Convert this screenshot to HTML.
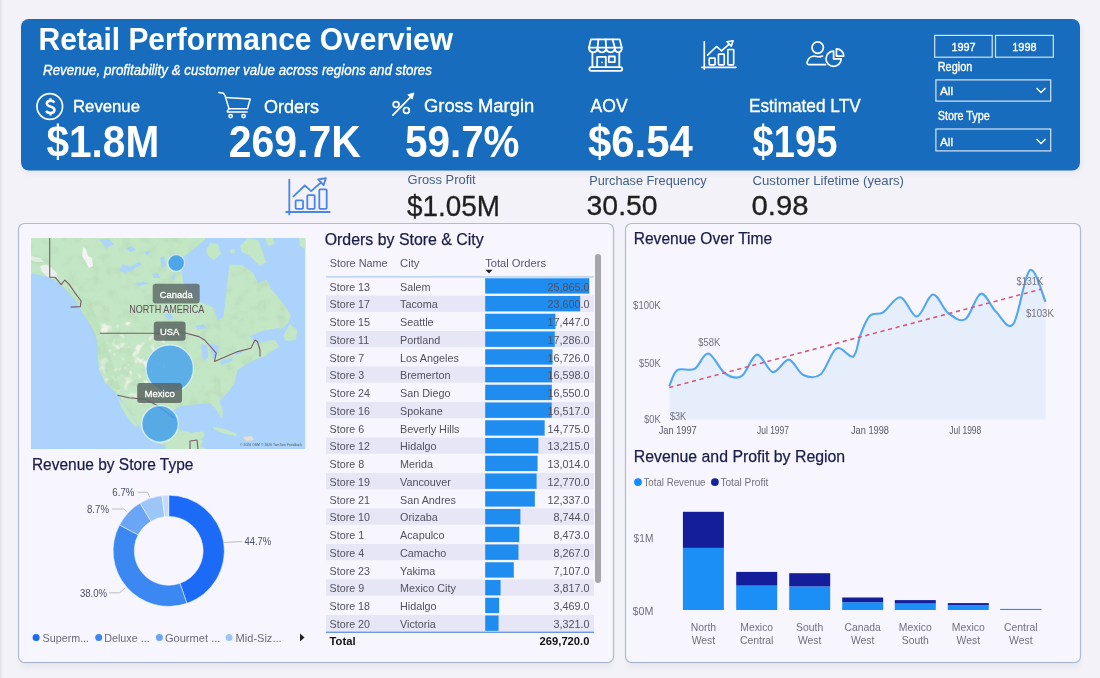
<!DOCTYPE html>
<html><head><meta charset="utf-8"><style>
html,body{margin:0;padding:0;width:1100px;height:678px;overflow:hidden;background:#f2f2f8;}
svg{display:block;font-family:"Liberation Sans", sans-serif;filter:blur(0.4px);}
</style></head><body>
<svg width="1100" height="678" viewBox="0 0 1100 678">
<defs><filter id="psh" x="-5%" y="-5%" width="110%" height="115%"><feGaussianBlur stdDeviation="3"/></filter></defs>
<rect x="0" y="0" width="1100" height="678" fill="#f2f2f8"/>
<rect x="0" y="0" width="1" height="678" fill="#e3e3e9"/><rect x="1" y="0" width="1.5" height="678" fill="#ebebf0"/>
<rect x="23" y="23" width="1058" height="150" rx="8" fill="#000" opacity="0.06" filter="url(#psh)"/>
<rect x="21" y="19" width="1059" height="151.5" rx="8" fill="#186cbe"/>
<text x="38.50" y="50.00" font-size="32.122905027932966" fill="#ffffff" font-weight="bold" font-style="normal" text-anchor="start" textLength="414.5" lengthAdjust="spacingAndGlyphs" >Retail Performance Overview</text>
<text x="43.00" y="74.60" font-size="13.966480446927374" fill="#ffffff" font-weight="normal" font-style="italic" text-anchor="start" textLength="389.0" lengthAdjust="spacingAndGlyphs" stroke="#ffffff" stroke-width="0.35">Revenue, profitability &amp; customer value across regions and stores</text>
<text x="73.00" y="112.30" font-size="17.178770949720672" fill="#ffffff" font-weight="normal" font-style="normal" text-anchor="start" textLength="67.0" lengthAdjust="spacingAndGlyphs" stroke="#ffffff" stroke-width="0.35">Revenue</text>
<text x="264.00" y="112.60" font-size="17.59776536312849" fill="#ffffff" font-weight="normal" font-style="normal" text-anchor="start" textLength="55.0" lengthAdjust="spacingAndGlyphs" stroke="#ffffff" stroke-width="0.35">Orders</text>
<text x="424.00" y="112.30" font-size="17.87709497206704" fill="#ffffff" font-weight="normal" font-style="normal" text-anchor="start" textLength="110.2" lengthAdjust="spacingAndGlyphs" stroke="#ffffff" stroke-width="0.35">Gross Margin</text>
<text x="590.60" y="111.60" font-size="17.87709497206704" fill="#ffffff" font-weight="normal" font-style="normal" text-anchor="start" textLength="37.1" lengthAdjust="spacingAndGlyphs" stroke="#ffffff" stroke-width="0.35">AOV</text>
<text x="748.90" y="111.60" font-size="18.715083798882684" fill="#ffffff" font-weight="normal" font-style="normal" text-anchor="start" textLength="111.8" lengthAdjust="spacingAndGlyphs" stroke="#ffffff" stroke-width="0.35">Estimated LTV</text>
<text x="46.40" y="156.60" font-size="44.23324022346369" fill="#ffffff" font-weight="bold" font-style="normal" text-anchor="start" textLength="112.8" lengthAdjust="spacingAndGlyphs" >$1.8M</text>
<text x="228.80" y="157.00" font-size="44.08868715083799" fill="#ffffff" font-weight="bold" font-style="normal" text-anchor="start" textLength="132.0" lengthAdjust="spacingAndGlyphs" >269.7K</text>
<text x="405.00" y="157.30" font-size="44.522346368715084" fill="#ffffff" font-weight="bold" font-style="normal" text-anchor="start" textLength="114.5" lengthAdjust="spacingAndGlyphs" >59.7%</text>
<text x="588.00" y="156.70" font-size="44.23324022346369" fill="#ffffff" font-weight="bold" font-style="normal" text-anchor="start" textLength="104.8" lengthAdjust="spacingAndGlyphs" >$6.54</text>
<text x="752.60" y="156.70" font-size="44.23324022346369" fill="#ffffff" font-weight="bold" font-style="normal" text-anchor="start" textLength="84.9" lengthAdjust="spacingAndGlyphs" >$195</text>
<text x="407.60" y="184.40" font-size="13.128491620111733" fill="#42608a" font-weight="normal" font-style="normal" text-anchor="start" textLength="68.1" lengthAdjust="spacingAndGlyphs" >Gross Profit</text>
<text x="589.30" y="185.00" font-size="13.40782122905028" fill="#42608a" font-weight="normal" font-style="normal" text-anchor="start" textLength="117.4" lengthAdjust="spacingAndGlyphs" >Purchase Frequency</text>
<text x="752.50" y="185.00" font-size="13.40782122905028" fill="#42608a" font-weight="normal" font-style="normal" text-anchor="start" textLength="151.5" lengthAdjust="spacingAndGlyphs" >Customer Lifetime (years)</text>
<text x="407.00" y="215.60" font-size="30.053072625698327" fill="#1f1f1f" font-weight="normal" font-style="normal" text-anchor="start" textLength="93.0" lengthAdjust="spacingAndGlyphs" stroke="#1f1f1f" stroke-width="0.3">$1.05M</text>
<text x="586.60" y="215.00" font-size="27.536312849162012" fill="#1f1f1f" font-weight="normal" font-style="normal" text-anchor="start" textLength="71.0" lengthAdjust="spacingAndGlyphs" stroke="#1f1f1f" stroke-width="0.3">30.50</text>
<text x="751.50" y="215.00" font-size="27.536312849162012" fill="#1f1f1f" font-weight="normal" font-style="normal" text-anchor="start" textLength="57.0" lengthAdjust="spacingAndGlyphs" stroke="#1f1f1f" stroke-width="0.3">0.98</text>
<rect x="934.7" y="35.4" width="57.5" height="21.8" fill="none" stroke="#d9e4f2" stroke-width="1.2"/>
<rect x="995.5" y="35.4" width="57.8" height="21.8" fill="none" stroke="#d9e4f2" stroke-width="1.2"/>
<text x="963.50" y="50.50" font-size="10.893854748603353" fill="#ffffff" font-weight="normal" font-style="normal" text-anchor="middle" stroke="#ffffff" stroke-width="0.35">1997</text>
<text x="1024.40" y="50.50" font-size="10.893854748603353" fill="#ffffff" font-weight="normal" font-style="normal" text-anchor="middle" stroke="#ffffff" stroke-width="0.35">1998</text>
<text x="937.70" y="71.40" font-size="12.569832402234637" fill="#ffffff" font-weight="normal" font-style="normal" text-anchor="start" textLength="34.6" lengthAdjust="spacingAndGlyphs" stroke="#ffffff" stroke-width="0.35">Region</text>
<rect x="935.9" y="79.9" width="114.8" height="21.2" fill="none" stroke="#d9e4f2" stroke-width="1.2"/>
<text x="940.00" y="95.00" font-size="11.731843575418996" fill="#ffffff" font-weight="normal" font-style="normal" text-anchor="start" stroke="#ffffff" stroke-width="0.35">All</text>
<path d="M1036.5 88 L1041 92.5 L1045.5 88" fill="none" stroke="#ffffff" stroke-width="1.3"/>
<text x="937.70" y="120.20" font-size="12.569832402234637" fill="#ffffff" font-weight="normal" font-style="normal" text-anchor="start" textLength="52.0" lengthAdjust="spacingAndGlyphs" stroke="#ffffff" stroke-width="0.35">Store Type</text>
<rect x="935.9" y="129" width="114.8" height="21.9" fill="none" stroke="#d9e4f2" stroke-width="1.2"/>
<text x="940.00" y="145.50" font-size="11.731843575418996" fill="#ffffff" font-weight="normal" font-style="normal" text-anchor="start" stroke="#ffffff" stroke-width="0.35">All</text>
<path d="M1036.5 139 L1041 143.5 L1045.5 139" fill="none" stroke="#ffffff" stroke-width="1.3"/>
<rect x="20" y="228" width="593" height="440" rx="6" fill="#000" opacity="0.045" filter="url(#psh)"/>
<rect x="627" y="228" width="453" height="440" rx="6" fill="#000" opacity="0.045" filter="url(#psh)"/>
<rect x="18.5" y="223.5" width="595" height="439" rx="6" fill="#f7f6fe" stroke="#afbccf" stroke-width="1.2"/>
<rect x="625.5" y="223.5" width="455" height="439" rx="6" fill="#f7f6fe" stroke="#afbccf" stroke-width="1.2"/>
<path d="M24 662.6 H608" stroke="#9fb0c6" stroke-width="0.8"/><path d="M631 662.6 H1075" stroke="#9fb0c6" stroke-width="0.8"/>
<circle cx="49.75" cy="106.5" r="12.8" fill="none" stroke="#fff" stroke-width="1.7"/>
<path d="M54.3 102.6 C53.6 101.3 52.3 100.8 50.5 100.8 C48.1 100.8 46.8 102 46.8 103.6 C46.8 107.6 54.5 105.6 54.5 110 C54.5 111.8 52.8 113 50.4 113 C48.3 113 46.9 112.3 46.1 111" fill="none" stroke="#fff" stroke-width="2.5" stroke-linecap="butt"/><path d="M50.5 98.2 V101 M50.5 112.8 V115.4" stroke="#fff" stroke-width="2.3"/>
<g fill="none" stroke="#fff" stroke-width="1.5" stroke-linejoin="round" stroke-linecap="round"><path d="M218.9 92.6 L223.6 93.3 L225 95.6 L229 108.8 L227.6 110.6 L227.3 112 L247 112"/><path d="M225.8 97.4 L250.2 99 L247.5 108.8 L229 108.8"/><circle cx="230.6" cy="116.1" r="1.7"/><circle cx="243.6" cy="116.1" r="1.7"/></g>
<g fill="none" stroke="#fff" stroke-width="1.7"><circle cx="396.1" cy="104.6" r="2.9"/><circle cx="406.4" cy="110.4" r="2.9"/><path d="M392.9 115.2 L410.5 97.2" stroke-linecap="round"/></g>
<path d="M413.9 92.9 L407.8 94.8 L412.2 99.2 Z" fill="#fff" stroke="#fff" stroke-width="0.8" stroke-linejoin="round"/>
<g fill="none" stroke="#fff" stroke-width="1.8" stroke-linejoin="round" stroke-linecap="round"><path d="M590.9 39.4 H619.7 L621.8 47.6 H589 Z"/><path d="M589 47.6 Q589 52.3 593.3 52.3 Q597.6 52.3 597.6 47.6 Q597.6 52.3 601.9 52.3 Q606.2 52.3 606.2 47.6 Q606.2 52.3 610.5 52.3 Q614.8 52.3 614.8 47.6 Q614.8 52.3 618.3 52.3 Q621.8 52.3 621.8 47.6"/><path d="M598.4 39.4 L597.6 47.6 M605.6 39.4 L606.2 47.6 M612.6 39.4 L614.8 47.6"/><path d="M592.4 52.3 V67 M619.3 52.3 V67"/><path d="M597.2 67 V56.8 H605.8 V67"/><rect x="608.8" y="56.5" width="6" height="5.6"/><rect x="589.4" y="67.2" width="32.8" height="3.6" rx="1.8"/></g>
<circle cx="602" cy="62.4" r="0.8" fill="#fff"/>
<g transform="translate(701.7,40.6) scale(0.786)" fill="none" stroke="#ffffff" stroke-width="2.10" stroke-linejoin="round" stroke-linecap="round"><path d="M3.3 1.6 V36.4 M0.2 34 H43.7"/><rect x="9.6" y="22.3" width="7.4" height="8.5" rx="0.8"/><rect x="21.3" y="17.2" width="7.4" height="13.6" rx="0.8"/><rect x="33.3" y="11.3" width="7.4" height="19.5" rx="0.8"/><path d="M7.5 18.4 L18.8 7.5 L25.2 13.1 L35.3 4.3"/><path d="M39.9 0.2 L32.2 1.5 L37.6 7.1 Z"/></g>
<g transform="translate(286,178) scale(1.0)" fill="none" stroke="#4a86e8" stroke-width="1.80" stroke-linejoin="round" stroke-linecap="round"><path d="M3.3 1.6 V36.4 M0.2 34 H43.7"/><rect x="9.6" y="22.3" width="7.4" height="8.5" rx="0.8"/><rect x="21.3" y="17.2" width="7.4" height="13.6" rx="0.8"/><rect x="33.3" y="11.3" width="7.4" height="19.5" rx="0.8"/><path d="M7.5 18.4 L18.8 7.5 L25.2 13.1 L35.3 4.3"/><path d="M39.9 0.2 L32.2 1.5 L37.6 7.1 Z"/></g>
<g fill="none" stroke="#fff" stroke-width="1.7" stroke-linejoin="round" stroke-linecap="round"><circle cx="817.7" cy="47.6" r="5.7"/><path d="M825.6 64.7 H809.2 Q806.6 64.7 807.2 62 Q808.6 56.6 813.9 56 Q818.2 57.4 822.6 56.1"/><path d="M833.6 51.2 A7.6 7.6 0 1 0 841.2 58.8 H833.6 Z"/><path d="M836.4 56.1 V48.8 A7.3 7.3 0 0 1 843.7 56.1 Z"/></g>
<defs><clipPath id="mapclip"><rect x="31" y="238" width="274.5" height="211"/></clipPath><filter id="mblur" x="-5%" y="-5%" width="110%" height="110%"><feGaussianBlur stdDeviation="0.5"/></filter></defs>
<g clip-path="url(#mapclip)">
<rect x="31" y="238" width="274.5" height="211" fill="#abd3fb"/>
<path d="M25 232 L25 273 L31.6 273.3 L46.2 276.6 L54.3 279.8 L60.8 284.7 L69 292.8 L75.4 300.9 L80.3 309 L85.2 317.1 L91.6 326.8 L97.7 340 L97.7 356.5 L99.3 369.7 L104.3 381.3 L112.5 389.5 L119.2 396.1 L125.8 406 L132.4 416 L139 425.9 L145.6 435.8 L155.5 442.4 L165.4 445.7 L172 449 L200 449 L203 441 L195 437 L190 432 L180 430 L172 420 L170 412 L174.9 409.4 L181.5 406 L194.7 404.4 L209.6 402.8 L216.2 409.4 L222 419.3 L223 411 L219.5 401.1 L227.8 392.8 L234.4 383 L237.7 369.7 L250.9 361.5 L264 356.5 L279 346.6 L276 341 L266 337 L280 330 L288 323.6 L290.8 315.5 L286 307.4 L276.2 294.4 L271.4 289.5 L266.5 279.8 L258 283 L253.5 273.3 L242.2 265.2 L230 264.4 L222 262 L212 256 L205 250 L205 232 Z" fill="#c3e7c4"/>
<defs><clipPath id="landclip"><path d="M25 232 L25 273 L31.6 273.3 L46.2 276.6 L54.3 279.8 L60.8 284.7 L69 292.8 L75.4 300.9 L80.3 309 L85.2 317.1 L91.6 326.8 L97.7 340 L97.7 356.5 L99.3 369.7 L104.3 381.3 L112.5 389.5 L119.2 396.1 L125.8 406 L132.4 416 L139 425.9 L145.6 435.8 L155.5 442.4 L165.4 445.7 L172 449 L200 449 L203 441 L195 437 L190 432 L180 430 L172 420 L170 412 L174.9 409.4 L181.5 406 L194.7 404.4 L209.6 402.8 L216.2 409.4 L222 419.3 L223 411 L219.5 401.1 L227.8 392.8 L234.4 383 L237.7 369.7 L250.9 361.5 L264 356.5 L279 346.6 L276 341 L266 337 L280 330 L288 323.6 L290.8 315.5 L286 307.4 L276.2 294.4 L271.4 289.5 L266.5 279.8 L258 283 L253.5 273.3 L242.2 265.2 L230 264.4 L222 262 L212 256 L205 250 L205 232 Z"/></clipPath><filter id="terr" x="0" y="0" width="100%" height="100%"><feTurbulence type="fractalNoise" baseFrequency="0.09" numOctaves="3" seed="7"/><feColorMatrix type="matrix" values="0 0 0 0 0.45  0 0 0 0 0.62  0 0 0 0 0.47  0 0 0 2.2 -1.05"/></filter><filter id="terr2" x="0" y="0" width="100%" height="100%"><feTurbulence type="fractalNoise" baseFrequency="0.12" numOctaves="2" seed="3"/><feColorMatrix type="matrix" values="0 0 0 0 0.93  0 0 0 0 0.90  0 0 0 0 0.84  0 0 0 5 -2.75"/></filter></defs>
<g clip-path="url(#landclip)"><rect x="31" y="238" width="275" height="211" filter="url(#terr)" opacity="0.5"/><path d="M90 322 L150 326 L166 402 L118 404 Z" filter="url(#terr2)" opacity="0.9"/></g>
<path d="M182.8 257.1 L190 252 L197.4 246 L204 240 L212 238 L222 238 L229.9 252 L229.9 260.3 L228.3 276.5 L226.6 289.5 L225 304.1 L223.4 317.1 L218.5 320.3 L216 315 L214 308 L207.7 305 L198.4 300.8 L192 295.6 L184 285 L182 275 L182 266 Z" fill="#abd3fb"/>
<path d="M240 246 L248 238 L258 240 L262 250 L266 262 L260 266 L250 256 L242 252 Z" fill="#c3e7c4"/>
<path d="M206 250 L210 243 L218 244 L221 254 L214 260 L208 256 Z" fill="#c3e7c4"/>
<path d="M265 238 L272 237 L275 244 L268 246 Z M299 238 L306 238 L306 250 L300 246 Z M230 250 L234 249 L235 253 L231 254 Z" fill="#c3e7c4"/>
<path d="M250 336 L262 331 L278 328 L284 332 L280 338 L268 341 L255 343 Z" fill="#abd3fb"/>
<path d="M283 336 L290 324 L297 330 L296 340 L286 341 Z" fill="#c3e7c4"/>
<path d="M212.9 426.5 L225 429 L237.7 434 L236 436 L222 433 L213 428.5 Z" fill="#c3e7c4"/>
<path d="M243 437 L252 436 L254 440 L246 441 Z" fill="#e9ddd0"/>
<path d="M165 449 L168 440 L176 436 L186 434 L196 432 L203 431.6 L205 436 L200 440 L196 444 L206 449 Z" fill="#c3e7c4"/>
<path d="M118 398 L124 404 L132 416 L138 426 L135 427 L128 418 L121 407 Z" fill="#c3e7c4"/>
<path d="M201.5 344 L207 345 L208 357 L204.5 361 L202 356 Z M210 343 L219 346 L217 356 L213 359 L211 352 Z M220 361 L233 357 L232 361 L222 365 Z M236 352 L243 350 L242 353 L236 355 Z" fill="#abd3fb"/>
<path d="M60 285 L90 300 L105 340 L115 370 L120 390 L112 388 L100 360 L92 330 L80 305 Z" fill="#b0dab3" opacity="0.3"/>
<path d="M83 247 L86 249 L88 256 L92 258 L93 266 L89 268 L86 262 L82 256 Z" fill="#f4f4f4" opacity="0.95"/>
<path d="M40 266 L46 264.5 L52 268 L57.5 274 L56 278 L48 277 L42 272 Z" fill="#f0f0f0" opacity="0.9"/>
<path d="M31 256 L40 258 L44 262 L36 262 L31 260 Z" fill="#e8eee8" opacity="0.8"/>
<path d="M119 271 L123 264 L130 267 L138 262 L142 264 L132 270 L126 273 Z M135 283 L146 282 L150 283.5 L138 286 Z M160 258 L164 256 L166 266 L162 268 Z M152 274 L158 273 L160 278 L154 278 Z M100 240 L108 239 L114 244 L106 248 Z M126 248 L132 246 L136 250 L130 252 Z M144 252 L150 251 L148 256 Z M170 276 L176 274 L174 280 Z M164 314 L170 313 L174 318 L168 320 Z M195 326 L204 324 L206 328 L198 330 Z" fill="#abd3fb" opacity="0.95"/>
<g fill="none" stroke="#7a5c6c" stroke-width="1.1" stroke-linejoin="round"><path d="M49.7 236 V277.3 L55.2 277.3 L61.2 284.6 L64.8 280 L69.4 284.6 L74.9 292.8 L80.4 300 L81.1 300.9 L80.3 306.6 L70.6 307.1"/><path d="M99.8 333.3 H159.8 L180.4 331.7 L199 336.6 L204.6 340 L216.2 353.2 L214.5 361.5 L226.1 356.5 L237.7 351.6 L250.9 348.3 L255 340 L257.4 341.4 L260 350 L260 356.5"/><path d="M117.5 395.3 L129 397.8 L145.6 399.4 L155.5 404.4 L167 412.6 L174 418"/><path d="M190 449 L190 441 L197 440 L198 449"/></g>
<g stroke="#eaf4ff" stroke-opacity="0.75" stroke-width="1.3"><circle cx="176.2" cy="263" r="8.4" fill="#3c9ded" fill-opacity="0.88"/><circle cx="169.7" cy="368.6" r="23.7" fill="#45a2ee" fill-opacity="0.82"/><circle cx="160" cy="423.9" r="18.2" fill="#3f9ded" fill-opacity="0.82"/></g>
<rect x="152.7" y="283.7" width="47" height="19.8" rx="3" fill="#5a6663" fill-opacity="0.8"/>
<rect x="153.8" y="321.6" width="31.8" height="19.2" rx="3" fill="#5a6663" fill-opacity="0.85"/>
<rect x="137.2" y="383" width="44.8" height="20" rx="3" fill="#5a6663" fill-opacity="0.85"/>
<text x="176.20" y="297.80" font-size="9.4" fill="#ffffff" font-weight="normal" font-style="normal" text-anchor="middle" stroke="#fff" stroke-width="0.3">Canada</text>
<text x="169.70" y="335.30" font-size="9.4" fill="#ffffff" font-weight="normal" font-style="normal" text-anchor="middle" stroke="#fff" stroke-width="0.3">USA</text>
<text x="159.60" y="397.20" font-size="9.6" fill="#ffffff" font-weight="normal" font-style="normal" text-anchor="middle" stroke="#fff" stroke-width="0.3">Mexico</text>
<text x="129.20" y="312.80" font-size="10.2" fill="#5e4f5a" font-weight="normal" font-style="normal" text-anchor="start" textLength="75.2" lengthAdjust="spacingAndGlyphs" >NORTH AMERICA</text>
<text x="240.00" y="446.00" font-size="3.5" fill="#555" font-weight="normal" font-style="normal" text-anchor="start" textLength="62.0" lengthAdjust="spacingAndGlyphs" >© 2026 OSM  © 2026 TomTom  Feedback</text>
</g>
<text x="31.90" y="470.10" font-size="16.75977653631285" fill="#1b1d4d" font-weight="normal" font-style="normal" text-anchor="start" textLength="161.5" lengthAdjust="spacingAndGlyphs" stroke="#1b1d4d" stroke-width="0.25">Revenue by Store Type</text>
<path d="M168.70 495.20 A55.6 55.6 0 0 1 186.87 603.35 L179.94 583.31 A34.4 34.4 0 0 0 168.70 516.40 Z" fill="#1b6bf6" stroke="#f7f6fe" stroke-width="0.55"/>
<path d="M186.87 603.35 A55.6 55.6 0 0 1 119.48 524.94 L138.25 534.80 A34.4 34.4 0 0 0 179.94 583.31 Z" fill="#3b88f3" stroke="#f7f6fe" stroke-width="0.55"/>
<path d="M119.48 524.94 A55.6 55.6 0 0 1 140.10 503.12 L151.00 521.30 A34.4 34.4 0 0 0 138.25 534.80 Z" fill="#6aa6f5" stroke="#f7f6fe" stroke-width="0.55"/>
<path d="M140.10 503.12 A55.6 55.6 0 0 1 162.08 495.60 L164.60 516.64 A34.4 34.4 0 0 0 151.00 521.30 Z" fill="#9cc5f8" stroke="#f7f6fe" stroke-width="0.55"/>
<path d="M162.08 495.60 A55.6 55.6 0 0 1 168.70 495.20 L168.70 516.40 A34.4 34.4 0 0 0 164.60 516.64 Z" fill="#c5dbf7" stroke="#f7f6fe" stroke-width="0.55"/>
<g fill="none" stroke="#b5b5c0" stroke-width="0.9"><path d="M224.3 542.5 L242 541.5"/><path d="M109 592.8 L119.5 592.8 L125.3 587.9"/><path d="M112 509 L123.7 509 L127 511.6"/><path d="M137.6 492.3 L147.6 492.3 L149.6 497"/></g>
<text x="244.40" y="545.30" font-size="10.4" fill="#4b4f6b" font-weight="normal" font-style="normal" text-anchor="start" textLength="26.9" lengthAdjust="spacingAndGlyphs" >44.7%</text>
<text x="79.90" y="596.60" font-size="10.4" fill="#4b4f6b" font-weight="normal" font-style="normal" text-anchor="start" textLength="27.2" lengthAdjust="spacingAndGlyphs" >38.0%</text>
<text x="87.00" y="512.80" font-size="10.4" fill="#4b4f6b" font-weight="normal" font-style="normal" text-anchor="start" textLength="22.0" lengthAdjust="spacingAndGlyphs" >8.7%</text>
<text x="112.30" y="496.00" font-size="10.4" fill="#4b4f6b" font-weight="normal" font-style="normal" text-anchor="start" textLength="22.1" lengthAdjust="spacingAndGlyphs" >6.7%</text>
<circle cx="36.1" cy="637.5" r="3.5" fill="#1b6bf6"/>
<text x="42.60" y="641.60" font-size="10.6" fill="#6c6a78" font-weight="normal" font-style="normal" text-anchor="start" textLength="46.5" lengthAdjust="spacingAndGlyphs" >Superm...</text>
<circle cx="98.7" cy="637.5" r="3.5" fill="#3b88f3"/>
<text x="104.20" y="641.60" font-size="10.6" fill="#6c6a78" font-weight="normal" font-style="normal" text-anchor="start" textLength="45.5" lengthAdjust="spacingAndGlyphs" >Deluxe ...</text>
<circle cx="159.4" cy="637.5" r="3.5" fill="#6aa6f5"/>
<text x="164.90" y="641.60" font-size="10.6" fill="#6c6a78" font-weight="normal" font-style="normal" text-anchor="start" textLength="55.5" lengthAdjust="spacingAndGlyphs" >Gourmet ...</text>
<circle cx="229.1" cy="637.5" r="3.5" fill="#9cc5f8"/>
<text x="235.60" y="641.60" font-size="10.6" fill="#6c6a78" font-weight="normal" font-style="normal" text-anchor="start" textLength="46.0" lengthAdjust="spacingAndGlyphs" >Mid-Siz...</text>
<path d="M300 633.5 L304.5 637.5 L300 641.5 Z" fill="#222"/>
<text x="324.70" y="245.00" font-size="16.34078212290503" fill="#1b1d4d" font-weight="normal" font-style="normal" text-anchor="start" textLength="159.0" lengthAdjust="spacingAndGlyphs" stroke="#1b1d4d" stroke-width="0.25">Orders by Store &amp; City</text>
<text x="329.70" y="267.20" font-size="11.2" fill="#57566a" font-weight="normal" font-style="normal" text-anchor="start" textLength="57.9" lengthAdjust="spacingAndGlyphs" >Store Name</text>
<text x="400.00" y="267.20" font-size="11.2" fill="#57566a" font-weight="normal" font-style="normal" text-anchor="start" textLength="19.5" lengthAdjust="spacingAndGlyphs" >City</text>
<text x="485.20" y="267.20" font-size="11.2" fill="#57566a" font-weight="normal" font-style="normal" text-anchor="start" textLength="60.8" lengthAdjust="spacingAndGlyphs" >Total Orders</text>
<path d="M485.5 269.8 L492.5 269.8 L489 273.5 Z" fill="#222"/>
<rect x="326" y="276.3" width="268" height="1.2" fill="#a9c8ee"/>
<rect x="485.2" y="278.25" width="104.10" height="15.35" fill="#1f8cf0"/>
<text x="329.60" y="290.60" font-size="11.2" fill="#52515e" font-weight="normal" font-style="normal" text-anchor="start" textLength="40.4" lengthAdjust="spacingAndGlyphs" >Store 13</text>
<text x="400.00" y="290.60" font-size="11.2" fill="#52515e" font-weight="normal" font-style="normal" text-anchor="start" textLength="30.6" lengthAdjust="spacingAndGlyphs" >Salem</text>
<text x="589.60" y="290.60" font-size="11.2" fill="#52515e" font-weight="normal" font-style="normal" text-anchor="end" textLength="42.1" lengthAdjust="spacingAndGlyphs" >25,865.0</text>
<rect x="326" y="295.40" width="268" height="16.4" fill="#e7e6f6"/>
<rect x="485.2" y="296.00" width="94.98" height="15.35" fill="#1f8cf0"/>
<text x="329.60" y="308.35" font-size="11.2" fill="#52515e" font-weight="normal" font-style="normal" text-anchor="start" textLength="40.4" lengthAdjust="spacingAndGlyphs" >Store 17</text>
<text x="400.00" y="308.35" font-size="11.2" fill="#52515e" font-weight="normal" font-style="normal" text-anchor="start" textLength="37.8" lengthAdjust="spacingAndGlyphs" >Tacoma</text>
<text x="589.60" y="308.35" font-size="11.2" fill="#52515e" font-weight="normal" font-style="normal" text-anchor="end" textLength="42.1" lengthAdjust="spacingAndGlyphs" >23,600.0</text>
<rect x="485.2" y="313.75" width="70.22" height="15.35" fill="#1f8cf0"/>
<text x="329.60" y="326.10" font-size="11.2" fill="#52515e" font-weight="normal" font-style="normal" text-anchor="start" textLength="40.4" lengthAdjust="spacingAndGlyphs" >Store 15</text>
<text x="400.00" y="326.10" font-size="11.2" fill="#52515e" font-weight="normal" font-style="normal" text-anchor="start" textLength="33.6" lengthAdjust="spacingAndGlyphs" >Seattle</text>
<text x="589.60" y="326.10" font-size="11.2" fill="#52515e" font-weight="normal" font-style="normal" text-anchor="end" textLength="42.1" lengthAdjust="spacingAndGlyphs" >17,447.0</text>
<rect x="326" y="330.90" width="268" height="16.4" fill="#e7e6f6"/>
<rect x="485.2" y="331.50" width="69.57" height="15.35" fill="#1f8cf0"/>
<text x="329.60" y="343.85" font-size="11.2" fill="#52515e" font-weight="normal" font-style="normal" text-anchor="start" textLength="39.6" lengthAdjust="spacingAndGlyphs" >Store 11</text>
<text x="400.00" y="343.85" font-size="11.2" fill="#52515e" font-weight="normal" font-style="normal" text-anchor="start" textLength="40.3" lengthAdjust="spacingAndGlyphs" >Portland</text>
<text x="589.60" y="343.85" font-size="11.2" fill="#52515e" font-weight="normal" font-style="normal" text-anchor="end" textLength="42.1" lengthAdjust="spacingAndGlyphs" >17,286.0</text>
<rect x="485.2" y="349.25" width="67.32" height="15.35" fill="#1f8cf0"/>
<text x="329.60" y="361.60" font-size="11.2" fill="#52515e" font-weight="normal" font-style="normal" text-anchor="start" textLength="34.5" lengthAdjust="spacingAndGlyphs" >Store 7</text>
<text x="400.00" y="361.60" font-size="11.2" fill="#52515e" font-weight="normal" font-style="normal" text-anchor="start" textLength="58.9" lengthAdjust="spacingAndGlyphs" >Los Angeles</text>
<text x="589.60" y="361.60" font-size="11.2" fill="#52515e" font-weight="normal" font-style="normal" text-anchor="end" textLength="42.1" lengthAdjust="spacingAndGlyphs" >16,726.0</text>
<rect x="326" y="366.40" width="268" height="16.4" fill="#e7e6f6"/>
<rect x="485.2" y="367.00" width="66.80" height="15.35" fill="#1f8cf0"/>
<text x="329.60" y="379.35" font-size="11.2" fill="#52515e" font-weight="normal" font-style="normal" text-anchor="start" textLength="34.5" lengthAdjust="spacingAndGlyphs" >Store 3</text>
<text x="400.00" y="379.35" font-size="11.2" fill="#52515e" font-weight="normal" font-style="normal" text-anchor="start" textLength="50.5" lengthAdjust="spacingAndGlyphs" >Bremerton</text>
<text x="589.60" y="379.35" font-size="11.2" fill="#52515e" font-weight="normal" font-style="normal" text-anchor="end" textLength="42.1" lengthAdjust="spacingAndGlyphs" >16,598.0</text>
<rect x="485.2" y="384.75" width="66.61" height="15.35" fill="#1f8cf0"/>
<text x="329.60" y="397.10" font-size="11.2" fill="#52515e" font-weight="normal" font-style="normal" text-anchor="start" textLength="40.4" lengthAdjust="spacingAndGlyphs" >Store 24</text>
<text x="400.00" y="397.10" font-size="11.2" fill="#52515e" font-weight="normal" font-style="normal" text-anchor="start" textLength="50.5" lengthAdjust="spacingAndGlyphs" >San Diego</text>
<text x="589.60" y="397.10" font-size="11.2" fill="#52515e" font-weight="normal" font-style="normal" text-anchor="end" textLength="42.1" lengthAdjust="spacingAndGlyphs" >16,550.0</text>
<rect x="326" y="401.90" width="268" height="16.4" fill="#e7e6f6"/>
<rect x="485.2" y="402.50" width="66.48" height="15.35" fill="#1f8cf0"/>
<text x="329.60" y="414.85" font-size="11.2" fill="#52515e" font-weight="normal" font-style="normal" text-anchor="start" textLength="40.4" lengthAdjust="spacingAndGlyphs" >Store 16</text>
<text x="400.00" y="414.85" font-size="11.2" fill="#52515e" font-weight="normal" font-style="normal" text-anchor="start" textLength="42.7" lengthAdjust="spacingAndGlyphs" >Spokane</text>
<text x="589.60" y="414.85" font-size="11.2" fill="#52515e" font-weight="normal" font-style="normal" text-anchor="end" textLength="42.1" lengthAdjust="spacingAndGlyphs" >16,517.0</text>
<rect x="485.2" y="420.25" width="59.47" height="15.35" fill="#1f8cf0"/>
<text x="329.60" y="432.60" font-size="11.2" fill="#52515e" font-weight="normal" font-style="normal" text-anchor="start" textLength="34.5" lengthAdjust="spacingAndGlyphs" >Store 6</text>
<text x="400.00" y="432.60" font-size="11.2" fill="#52515e" font-weight="normal" font-style="normal" text-anchor="start" textLength="59.5" lengthAdjust="spacingAndGlyphs" >Beverly Hills</text>
<text x="589.60" y="432.60" font-size="11.2" fill="#52515e" font-weight="normal" font-style="normal" text-anchor="end" textLength="42.1" lengthAdjust="spacingAndGlyphs" >14,775.0</text>
<rect x="326" y="437.40" width="268" height="16.4" fill="#e7e6f6"/>
<rect x="485.2" y="438.00" width="53.19" height="15.35" fill="#1f8cf0"/>
<text x="329.60" y="450.35" font-size="11.2" fill="#52515e" font-weight="normal" font-style="normal" text-anchor="start" textLength="40.4" lengthAdjust="spacingAndGlyphs" >Store 12</text>
<text x="400.00" y="450.35" font-size="11.2" fill="#52515e" font-weight="normal" font-style="normal" text-anchor="start" textLength="36.6" lengthAdjust="spacingAndGlyphs" >Hidalgo</text>
<text x="589.60" y="450.35" font-size="11.2" fill="#52515e" font-weight="normal" font-style="normal" text-anchor="end" textLength="42.1" lengthAdjust="spacingAndGlyphs" >13,215.0</text>
<rect x="485.2" y="455.75" width="52.38" height="15.35" fill="#1f8cf0"/>
<text x="329.60" y="468.10" font-size="11.2" fill="#52515e" font-weight="normal" font-style="normal" text-anchor="start" textLength="34.5" lengthAdjust="spacingAndGlyphs" >Store 8</text>
<text x="400.00" y="468.10" font-size="11.2" fill="#52515e" font-weight="normal" font-style="normal" text-anchor="start" textLength="33.0" lengthAdjust="spacingAndGlyphs" >Merida</text>
<text x="589.60" y="468.10" font-size="11.2" fill="#52515e" font-weight="normal" font-style="normal" text-anchor="end" textLength="42.1" lengthAdjust="spacingAndGlyphs" >13,014.0</text>
<rect x="326" y="472.90" width="268" height="16.4" fill="#e7e6f6"/>
<rect x="485.2" y="473.50" width="51.40" height="15.35" fill="#1f8cf0"/>
<text x="329.60" y="485.85" font-size="11.2" fill="#52515e" font-weight="normal" font-style="normal" text-anchor="start" textLength="40.4" lengthAdjust="spacingAndGlyphs" >Store 19</text>
<text x="400.00" y="485.85" font-size="11.2" fill="#52515e" font-weight="normal" font-style="normal" text-anchor="start" textLength="50.9" lengthAdjust="spacingAndGlyphs" >Vancouver</text>
<text x="589.60" y="485.85" font-size="11.2" fill="#52515e" font-weight="normal" font-style="normal" text-anchor="end" textLength="42.1" lengthAdjust="spacingAndGlyphs" >12,770.0</text>
<rect x="485.2" y="491.25" width="49.65" height="15.35" fill="#1f8cf0"/>
<text x="329.60" y="503.60" font-size="11.2" fill="#52515e" font-weight="normal" font-style="normal" text-anchor="start" textLength="40.4" lengthAdjust="spacingAndGlyphs" >Store 21</text>
<text x="400.00" y="503.60" font-size="11.2" fill="#52515e" font-weight="normal" font-style="normal" text-anchor="start" textLength="55.9" lengthAdjust="spacingAndGlyphs" >San Andres</text>
<text x="589.60" y="503.60" font-size="11.2" fill="#52515e" font-weight="normal" font-style="normal" text-anchor="end" textLength="42.1" lengthAdjust="spacingAndGlyphs" >12,337.0</text>
<rect x="326" y="508.40" width="268" height="16.4" fill="#e7e6f6"/>
<rect x="485.2" y="509.00" width="35.19" height="15.35" fill="#1f8cf0"/>
<text x="329.60" y="521.35" font-size="11.2" fill="#52515e" font-weight="normal" font-style="normal" text-anchor="start" textLength="40.4" lengthAdjust="spacingAndGlyphs" >Store 10</text>
<text x="400.00" y="521.35" font-size="11.2" fill="#52515e" font-weight="normal" font-style="normal" text-anchor="start" textLength="37.8" lengthAdjust="spacingAndGlyphs" >Orizaba</text>
<text x="589.60" y="521.35" font-size="11.2" fill="#52515e" font-weight="normal" font-style="normal" text-anchor="end" textLength="36.1" lengthAdjust="spacingAndGlyphs" >8,744.0</text>
<rect x="485.2" y="526.75" width="34.10" height="15.35" fill="#1f8cf0"/>
<text x="329.60" y="539.10" font-size="11.2" fill="#52515e" font-weight="normal" font-style="normal" text-anchor="start" textLength="34.5" lengthAdjust="spacingAndGlyphs" >Store 1</text>
<text x="400.00" y="539.10" font-size="11.2" fill="#52515e" font-weight="normal" font-style="normal" text-anchor="start" textLength="44.5" lengthAdjust="spacingAndGlyphs" >Acapulco</text>
<text x="589.60" y="539.10" font-size="11.2" fill="#52515e" font-weight="normal" font-style="normal" text-anchor="end" textLength="36.1" lengthAdjust="spacingAndGlyphs" >8,473.0</text>
<rect x="326" y="543.90" width="268" height="16.4" fill="#e7e6f6"/>
<rect x="485.2" y="544.50" width="33.27" height="15.35" fill="#1f8cf0"/>
<text x="329.60" y="556.85" font-size="11.2" fill="#52515e" font-weight="normal" font-style="normal" text-anchor="start" textLength="34.5" lengthAdjust="spacingAndGlyphs" >Store 4</text>
<text x="400.00" y="556.85" font-size="11.2" fill="#52515e" font-weight="normal" font-style="normal" text-anchor="start" textLength="46.3" lengthAdjust="spacingAndGlyphs" >Camacho</text>
<text x="589.60" y="556.85" font-size="11.2" fill="#52515e" font-weight="normal" font-style="normal" text-anchor="end" textLength="36.1" lengthAdjust="spacingAndGlyphs" >8,267.0</text>
<rect x="485.2" y="562.25" width="28.60" height="15.35" fill="#1f8cf0"/>
<text x="329.60" y="574.60" font-size="11.2" fill="#52515e" font-weight="normal" font-style="normal" text-anchor="start" textLength="40.4" lengthAdjust="spacingAndGlyphs" >Store 23</text>
<text x="400.00" y="574.60" font-size="11.2" fill="#52515e" font-weight="normal" font-style="normal" text-anchor="start" textLength="35.2" lengthAdjust="spacingAndGlyphs" >Yakima</text>
<text x="589.60" y="574.60" font-size="11.2" fill="#52515e" font-weight="normal" font-style="normal" text-anchor="end" textLength="36.1" lengthAdjust="spacingAndGlyphs" >7,107.0</text>
<rect x="326" y="579.40" width="268" height="16.4" fill="#e7e6f6"/>
<rect x="485.2" y="580.00" width="15.36" height="15.35" fill="#1f8cf0"/>
<text x="329.60" y="592.35" font-size="11.2" fill="#52515e" font-weight="normal" font-style="normal" text-anchor="start" textLength="34.5" lengthAdjust="spacingAndGlyphs" >Store 9</text>
<text x="400.00" y="592.35" font-size="11.2" fill="#52515e" font-weight="normal" font-style="normal" text-anchor="start" textLength="55.8" lengthAdjust="spacingAndGlyphs" >Mexico City</text>
<text x="589.60" y="592.35" font-size="11.2" fill="#52515e" font-weight="normal" font-style="normal" text-anchor="end" textLength="36.1" lengthAdjust="spacingAndGlyphs" >3,817.0</text>
<rect x="485.2" y="597.75" width="13.96" height="15.35" fill="#1f8cf0"/>
<text x="329.60" y="610.10" font-size="11.2" fill="#52515e" font-weight="normal" font-style="normal" text-anchor="start" textLength="40.4" lengthAdjust="spacingAndGlyphs" >Store 18</text>
<text x="400.00" y="610.10" font-size="11.2" fill="#52515e" font-weight="normal" font-style="normal" text-anchor="start" textLength="36.6" lengthAdjust="spacingAndGlyphs" >Hidalgo</text>
<text x="589.60" y="610.10" font-size="11.2" fill="#52515e" font-weight="normal" font-style="normal" text-anchor="end" textLength="36.1" lengthAdjust="spacingAndGlyphs" >3,469.0</text>
<rect x="326" y="614.90" width="268" height="16.4" fill="#e7e6f6"/>
<rect x="485.2" y="615.50" width="13.37" height="15.35" fill="#1f8cf0"/>
<text x="329.60" y="627.85" font-size="11.2" fill="#52515e" font-weight="normal" font-style="normal" text-anchor="start" textLength="40.4" lengthAdjust="spacingAndGlyphs" >Store 20</text>
<text x="400.00" y="627.85" font-size="11.2" fill="#52515e" font-weight="normal" font-style="normal" text-anchor="start" textLength="35.8" lengthAdjust="spacingAndGlyphs" >Victoria</text>
<text x="589.60" y="627.85" font-size="11.2" fill="#52515e" font-weight="normal" font-style="normal" text-anchor="end" textLength="36.1" lengthAdjust="spacingAndGlyphs" >3,321.0</text>
<rect x="326" y="631.6" width="268" height="1.3" fill="#5b8fd9"/>
<text x="329.60" y="645.20" font-size="11.2" fill="#111" font-weight="bold" font-style="normal" text-anchor="start" >Total</text>
<text x="589.40" y="645.20" font-size="11.2" fill="#111" font-weight="bold" font-style="normal" text-anchor="end" >269,720.0</text>
<rect x="595" y="254" width="6" height="329" rx="3" fill="#a6a5ab"/>
<text x="633.70" y="244.40" font-size="16.201117318435756" fill="#1b1d4d" font-weight="normal" font-style="normal" text-anchor="start" textLength="138.5" lengthAdjust="spacingAndGlyphs" stroke="#1b1d4d" stroke-width="0.25">Revenue Over Time</text>
<text x="660.60" y="309.20" font-size="10.2" fill="#72707e" font-weight="normal" font-style="normal" text-anchor="end" textLength="27.5" lengthAdjust="spacingAndGlyphs" >$100K</text>
<text x="660.60" y="367.00" font-size="10.2" fill="#72707e" font-weight="normal" font-style="normal" text-anchor="end" textLength="21.6" lengthAdjust="spacingAndGlyphs" >$50K</text>
<text x="660.60" y="423.40" font-size="10.2" fill="#72707e" font-weight="normal" font-style="normal" text-anchor="end" textLength="16.4" lengthAdjust="spacingAndGlyphs" >$0K</text>
<text x="677.70" y="434.10" font-size="10.2" fill="#585766" font-weight="normal" font-style="normal" text-anchor="middle" textLength="38.0" lengthAdjust="spacingAndGlyphs" >Jan 1997</text>
<text x="773.00" y="434.10" font-size="10.2" fill="#585766" font-weight="normal" font-style="normal" text-anchor="middle" textLength="32.0" lengthAdjust="spacingAndGlyphs" >Jul 1997</text>
<text x="870.00" y="434.10" font-size="10.2" fill="#585766" font-weight="normal" font-style="normal" text-anchor="middle" textLength="38.0" lengthAdjust="spacingAndGlyphs" >Jan 1998</text>
<text x="965.30" y="434.10" font-size="10.2" fill="#585766" font-weight="normal" font-style="normal" text-anchor="middle" textLength="32.0" lengthAdjust="spacingAndGlyphs" >Jul 1998</text>
<path d="M669.30 386.20 C670.63 383.53 673.10 373.08 677.30 370.20 C681.50 367.32 689.33 371.68 694.50 368.90 C699.67 366.12 703.22 352.77 708.30 353.50 C713.38 354.23 719.47 369.52 725.00 373.30 C730.53 377.08 736.18 379.32 741.50 376.20 C746.82 373.08 751.67 355.28 756.90 354.60 C762.13 353.92 767.58 371.27 772.90 372.10 C778.22 372.93 783.72 359.12 788.80 359.60 C793.88 360.08 798.08 372.57 803.40 375.00 C808.72 377.43 815.17 378.63 820.70 374.20 C826.23 369.77 831.18 351.35 836.60 348.40 C842.02 345.45 849.20 358.85 853.20 356.50 C857.20 354.15 857.82 341.10 860.60 334.30 C863.38 327.50 866.13 319.37 869.90 315.70 C873.67 312.03 878.12 315.38 883.20 312.30 C888.28 309.22 894.78 296.50 900.40 297.20 C906.02 297.90 911.50 316.95 916.90 316.50 C922.30 316.05 927.58 295.07 932.80 294.50 C938.02 293.93 942.77 308.98 948.20 313.10 C953.63 317.22 959.97 322.43 965.40 319.20 C970.83 315.97 975.70 294.93 980.80 293.70 C985.90 292.47 990.60 306.72 996.00 311.80 C1001.40 316.88 1007.55 331.15 1013.20 324.20 C1018.85 317.25 1024.50 273.82 1029.90 270.10 C1035.30 266.38 1042.98 296.60 1045.60 301.90 L1045.6 419.4 L669.3 419.4 Z" fill="#e6eefc"/>
<path d="M669.30 386.20 C670.63 383.53 673.10 373.08 677.30 370.20 C681.50 367.32 689.33 371.68 694.50 368.90 C699.67 366.12 703.22 352.77 708.30 353.50 C713.38 354.23 719.47 369.52 725.00 373.30 C730.53 377.08 736.18 379.32 741.50 376.20 C746.82 373.08 751.67 355.28 756.90 354.60 C762.13 353.92 767.58 371.27 772.90 372.10 C778.22 372.93 783.72 359.12 788.80 359.60 C793.88 360.08 798.08 372.57 803.40 375.00 C808.72 377.43 815.17 378.63 820.70 374.20 C826.23 369.77 831.18 351.35 836.60 348.40 C842.02 345.45 849.20 358.85 853.20 356.50 C857.20 354.15 857.82 341.10 860.60 334.30 C863.38 327.50 866.13 319.37 869.90 315.70 C873.67 312.03 878.12 315.38 883.20 312.30 C888.28 309.22 894.78 296.50 900.40 297.20 C906.02 297.90 911.50 316.95 916.90 316.50 C922.30 316.05 927.58 295.07 932.80 294.50 C938.02 293.93 942.77 308.98 948.20 313.10 C953.63 317.22 959.97 322.43 965.40 319.20 C970.83 315.97 975.70 294.93 980.80 293.70 C985.90 292.47 990.60 306.72 996.00 311.80 C1001.40 316.88 1007.55 331.15 1013.20 324.20 C1018.85 317.25 1024.50 273.82 1029.90 270.10 C1035.30 266.38 1042.98 296.60 1045.60 301.90" fill="none" stroke="#4fa7f2" stroke-width="2.1"/>
<path d="M669.3 387.5 L1041 289.2" stroke="#d45b78" stroke-width="1.6" stroke-dasharray="4.2 3.6" fill="none"/>
<text x="698.20" y="346.40" font-size="10.6" fill="#74727f" font-weight="normal" font-style="normal" text-anchor="start" textLength="22.2" lengthAdjust="spacingAndGlyphs" >$58K</text>
<text x="670.00" y="419.50" font-size="10.6" fill="#74727f" font-weight="normal" font-style="normal" text-anchor="start" textLength="16.2" lengthAdjust="spacingAndGlyphs" >$3K</text>
<text x="1016.60" y="284.90" font-size="10.6" fill="#74727f" font-weight="normal" font-style="normal" text-anchor="start" textLength="26.4" lengthAdjust="spacingAndGlyphs" >$131K</text>
<text x="1026.00" y="317.00" font-size="10.6" fill="#74727f" font-weight="normal" font-style="normal" text-anchor="start" textLength="27.8" lengthAdjust="spacingAndGlyphs" >$103K</text>
<text x="633.70" y="462.00" font-size="16.75977653631285" fill="#1b1d4d" font-weight="normal" font-style="normal" text-anchor="start" textLength="211.5" lengthAdjust="spacingAndGlyphs" stroke="#1b1d4d" stroke-width="0.25">Revenue and Profit by Region</text>
<circle cx="638" cy="482.1" r="3.9" fill="#118dff"/>
<text x="643.50" y="485.80" font-size="10.4" fill="#72707e" font-weight="normal" font-style="normal" text-anchor="start" textLength="62.0" lengthAdjust="spacingAndGlyphs" >Total Revenue</text>
<circle cx="714.9" cy="482.1" r="3.9" fill="#12239e"/>
<text x="720.40" y="485.80" font-size="10.4" fill="#72707e" font-weight="normal" font-style="normal" text-anchor="start" textLength="47.9" lengthAdjust="spacingAndGlyphs" >Total Profit</text>
<text x="653.40" y="541.60" font-size="10.2" fill="#72707e" font-weight="normal" font-style="normal" text-anchor="end" textLength="19.8" lengthAdjust="spacingAndGlyphs" >$1M</text>
<text x="653.40" y="614.60" font-size="10.2" fill="#72707e" font-weight="normal" font-style="normal" text-anchor="end" textLength="20.8" lengthAdjust="spacingAndGlyphs" >$0M</text>
<rect x="682.9" y="547.9" width="41" height="62.10" fill="#1b8ff5"/>
<rect x="682.9" y="511.8" width="41" height="36.10" fill="#141e9a"/>
<text x="703.40" y="630.60" font-size="10.4" fill="#72707e" font-weight="normal" font-style="normal" text-anchor="middle" >North</text>
<text x="703.40" y="644.30" font-size="10.4" fill="#72707e" font-weight="normal" font-style="normal" text-anchor="middle" >West</text>
<rect x="736.2" y="585.6" width="41" height="24.40" fill="#1b8ff5"/>
<rect x="736.2" y="571.9" width="41" height="13.70" fill="#141e9a"/>
<text x="756.70" y="630.60" font-size="10.4" fill="#72707e" font-weight="normal" font-style="normal" text-anchor="middle" >Mexico</text>
<text x="756.70" y="644.30" font-size="10.4" fill="#72707e" font-weight="normal" font-style="normal" text-anchor="middle" >Central</text>
<rect x="789.2" y="586.4" width="41" height="23.60" fill="#1b8ff5"/>
<rect x="789.2" y="573.2" width="41" height="13.20" fill="#141e9a"/>
<text x="809.70" y="630.60" font-size="10.4" fill="#72707e" font-weight="normal" font-style="normal" text-anchor="middle" >South</text>
<text x="809.70" y="644.30" font-size="10.4" fill="#72707e" font-weight="normal" font-style="normal" text-anchor="middle" >West</text>
<rect x="842.2" y="602.2" width="41" height="7.80" fill="#1b8ff5"/>
<rect x="842.2" y="597.5" width="41" height="4.70" fill="#141e9a"/>
<text x="862.70" y="630.60" font-size="10.4" fill="#72707e" font-weight="normal" font-style="normal" text-anchor="middle" >Canada</text>
<text x="862.70" y="644.30" font-size="10.4" fill="#72707e" font-weight="normal" font-style="normal" text-anchor="middle" >West</text>
<rect x="894.8" y="603.5" width="41" height="6.50" fill="#1b8ff5"/>
<rect x="894.8" y="600.1" width="41" height="3.40" fill="#141e9a"/>
<text x="915.30" y="630.60" font-size="10.4" fill="#72707e" font-weight="normal" font-style="normal" text-anchor="middle" >Mexico</text>
<text x="915.30" y="644.30" font-size="10.4" fill="#72707e" font-weight="normal" font-style="normal" text-anchor="middle" >South</text>
<rect x="947.8" y="605.2" width="41" height="4.80" fill="#1b8ff5"/>
<rect x="947.8" y="603.1" width="41" height="2.10" fill="#141e9a"/>
<text x="968.30" y="630.60" font-size="10.4" fill="#72707e" font-weight="normal" font-style="normal" text-anchor="middle" >Mexico</text>
<text x="968.30" y="644.30" font-size="10.4" fill="#72707e" font-weight="normal" font-style="normal" text-anchor="middle" >West</text>
<rect x="1000.3" y="609.2" width="41" height="0.80" fill="#1b8ff5"/>
<rect x="1000.3" y="609.0" width="41" height="0.20" fill="#141e9a"/>
<text x="1020.80" y="630.60" font-size="10.4" fill="#72707e" font-weight="normal" font-style="normal" text-anchor="middle" >Central</text>
<text x="1020.80" y="644.30" font-size="10.4" fill="#72707e" font-weight="normal" font-style="normal" text-anchor="middle" >West</text>
<rect x="1000.3" y="608.9" width="41" height="1.1" fill="#1b8ff5"/>
</svg>
</body></html>
